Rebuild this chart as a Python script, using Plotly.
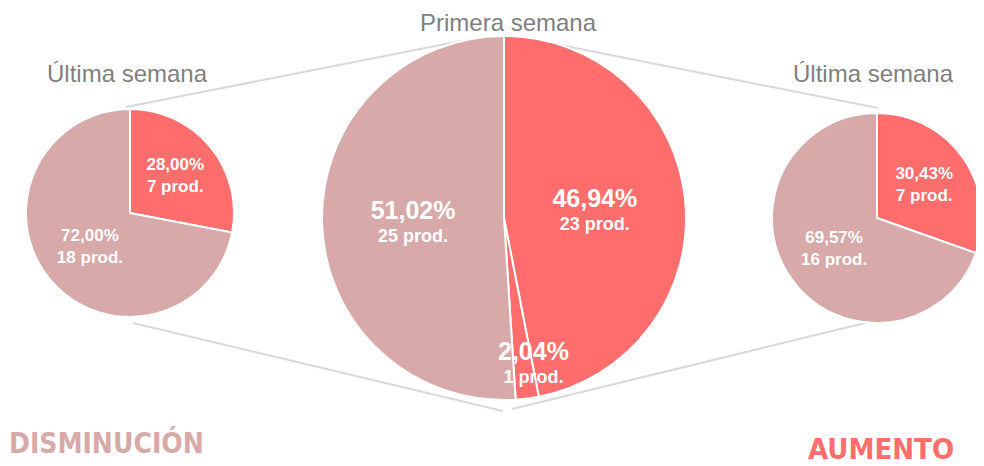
import math
import plotly.graph_objects as go

# data
labels = ["Aumento", "Aumento (1)", "Disminución"]
primera_vals = [23, 1, 25]
ult_dis_labels = ["Aumento", "Disminución"]
ult_dis_vals = [7, 18]
ult_aum_labels = ["Aumento", "Disminución"]
ult_aum_vals = [7, 16]

RED = "#FF6D6D"
PINK = "#D7A9A9"
GRAY = "#7F7F7F"
LINE = "#D9D9D9"
W, H = 984, 466
OFF = 8  # page body margin


def px(x, y):
    return (x - OFF) / W, 1 - (y - OFF) / H


def dom(x0, x1, y0, y1):
    return dict(x=[(x0 - OFF) / W, (x1 - OFF) / W], y=[1 - (y1 - OFF) / H, 1 - (y0 - OFF) / H])


fig = go.Figure()

# center pie (primera semana)
big = "<b><span style='font-size:25px'>%{percent:.2%}</span><br>%{value} prod.</b>"
fig.add_trace(go.Pie(
    labels=labels, values=primera_vals, sort=False, direction="clockwise", rotation=0,
    marker=dict(colors=[RED, RED, PINK], line=dict(color="white", width=2)),
    texttemplate=[big, "", big],
    textposition="inside", insidetextorientation="horizontal",
    textfont=dict(family="Liberation Sans, Arial", size=18, color="white"),
    domain=dom(322, 686, 36, 400), showlegend=False,
))

# label for the 1-product slice, at its mid angle near the rim
tot = sum(primera_vals)
mid = (primera_vals[0] + primera_vals[1] / 2) / tot * 2 * math.pi
cx, cy, r = 504, 218, 182
lx, ly = cx + 0.8 * r * math.sin(mid) + 11, cy - 0.8 * r * math.cos(mid)
ax, ay = px(lx, ly)
fig.add_annotation(
    x=ax, y=ay, xref="paper", yref="paper", showarrow=False, xanchor="center", yanchor="middle",
    text="<b><span style='font-size:25px'>%s%%</span><br>%d prod.</b>" % (
        f"{primera_vals[1] / tot * 100:.2f}".replace(".", ","), primera_vals[1]),
    font=dict(family="Liberation Sans, Arial", size=18, color="white"),
)

small = "<b>%{percent:.2%}<br>%{value} prod.</b>"
# left pie (disminución)
fig.add_trace(go.Pie(
    labels=ult_dis_labels, values=ult_dis_vals, sort=False, direction="clockwise", rotation=0,
    marker=dict(colors=[RED, PINK], line=dict(color="white", width=2)),
    texttemplate=small, textposition="inside", insidetextorientation="horizontal",
    textfont=dict(family="Liberation Sans, Arial", size=17, color="white"),
    domain=dom(26, 234, 109, 317), showlegend=False,
))

# right pie (aumento)
fig.add_trace(go.Pie(
    labels=ult_aum_labels, values=ult_aum_vals, sort=False, direction="clockwise", rotation=0,
    marker=dict(colors=[RED, PINK], line=dict(color="white", width=2)),
    texttemplate=small, textposition="inside", insidetextorientation="horizontal",
    textfont=dict(family="Liberation Sans, Arial", size=17, color="white"),
    domain=dom(772, 982, 113, 323), showlegend=False,
))

# connector lines
segs = [((126, 107), (466, 40)), ((540, 41), (878, 108)),
        ((133, 323), (503, 411)), ((512, 409), (865, 323))]
for (a, b) in segs:
    x0, y0 = px(*a)
    x1, y1 = px(*b)
    fig.add_shape(type="line", xref="paper", yref="paper", x0=x0, y0=y0, x1=x1, y1=y1,
                  line=dict(color=LINE, width=2), layer="below")

# titles
fig.add_annotation(x=px(508, 0)[0], y=1, xref="paper", yref="paper", text="Primera semana",
                   showarrow=False, xanchor="center", yanchor="top", borderpad=0,
                   font=dict(family="Liberation Sans, Arial", size=24, color=GRAY))
for x, y in [(127, 74), (873, 74)]:
    tx, ty = px(x, y)
    fig.add_annotation(x=tx, y=ty, xref="paper", yref="paper", text="Última semana", showarrow=False,
                       xanchor="center", yanchor="middle",
                       font=dict(family="Liberation Sans, Arial", size=24, color=GRAY))

NARROW = "DejaVu Sans Condensed, Liberation Sans Narrow, Liberation Sans"
tx, ty = px(7, 443)
fig.add_annotation(x=tx, y=ty, xref="paper", yref="paper", xanchor="left", yanchor="middle",
                   text="<b>DISMINUCIÓN</b>", showarrow=False,
                   font=dict(family=NARROW, size=28, color=PINK))
tx, ty = px(956, 449)
fig.add_annotation(x=tx, y=ty, xref="paper", yref="paper", xanchor="right", yanchor="middle",
                   text="<b>AUMENTO</b>", showarrow=False,
                   font=dict(family=NARROW, size=29, color=RED))

fig.update_layout(width=W, height=H, margin=dict(l=0, r=0, t=0, b=0),
                  paper_bgcolor="white", plot_bgcolor="white", separators=",.")
fig.write_html("out.html")
